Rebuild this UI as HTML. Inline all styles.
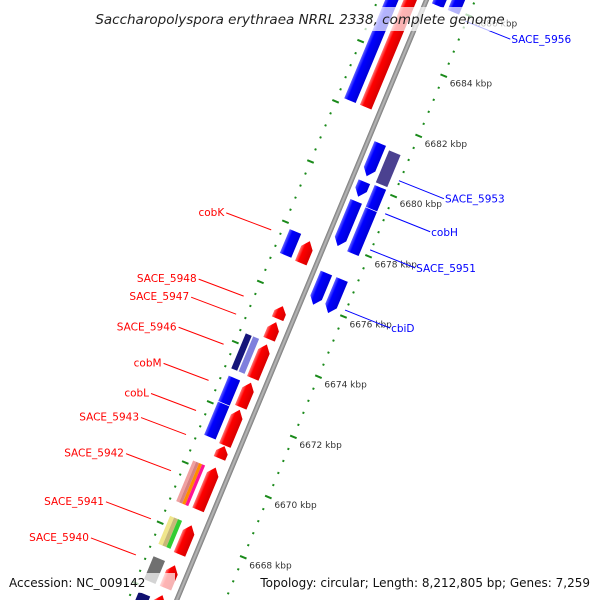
<!DOCTYPE html>
<html><head><meta charset="utf-8">
<style>
html,body{margin:0;padding:0;background:#fff;overflow:hidden;}
svg{display:block;font-family:"DejaVu Sans","Liberation Sans",sans-serif;}
</style></head>
<body>
<svg id="chart" width="600" height="600" viewBox="0 0 600 600" xmlns="http://www.w3.org/2000/svg" style="position:absolute;left:0;top:0">
<defs>
<linearGradient id="gBlue" x1="0" y1="0" x2="1" y2="0"><stop offset="0" stop-color="#6a6aff"/><stop offset="0.3" stop-color="#0000ff"/><stop offset="1" stop-color="#0000d8"/></linearGradient>
<linearGradient id="gRed" x1="0" y1="0" x2="1" y2="0"><stop offset="0" stop-color="#ff8080"/><stop offset="0.3" stop-color="#ff0000"/><stop offset="1" stop-color="#d80000"/></linearGradient>
<linearGradient id="gBack" x1="0" y1="0" x2="1" y2="0"><stop offset="0" stop-color="#777"/><stop offset="0.5" stop-color="#bbb"/><stop offset="1" stop-color="#777"/></linearGradient>
</defs>
<g id="frame" transform="translate(327,239) rotate(22.6)"></g>
<g id="over"></g>
</svg>
<script>
// ---- data ----
const tickKbp = [6668,6670,6672,6674,6676,6678,6680,6682,6684,6686];
const tickLabels = ["6668 kbp","6670 kbp","6672 kbp","6674 kbp","6676 kbp","6678 kbp","6680 kbp","6682 kbp","6684 kbp","6686 kbp"];
const geneTop    = [6687.9,6677.75,6675.59,6675.06,6674.32,6673.05,6672.15,6670.94,6670.23,6668.31,6666.98,6665.99, 6687.9,6677.85,6672.98,6672.12,6674.38,6674.38,6670.15,6668.31,6666.98,6665.8, 6687.3,6681.34,6680.07,6679.42,6677.04, 6687.3,6681.25,6680.1,6679.36,6677.04];
const geneBottom = [6682.18,6677.0,6675.15,6674.47,6673.17,6672.21,6670.94,6670.51,6668.80,6667.32,6666.20,6664.69, 6682.18,6677.04,6672.12,6671.0,6673.2,6673.2,6668.80,6667.38,6666.2,6664.5, 6685.9,6680.23,6679.55,6677.91,6675.96, 6685.9,6680.17,6679.36,6677.88,6675.9];
const geneSlot   = ["L1","L1","L1","L1","L1","L1","L1","L1","L1","L1","L1","L1", "L2","L2","L2","L2","L2a","L2b","L2","L2","L2","L2", "R1","R1","R1","R1","R1", "R2","R2","R2","R2","R2"];
const geneColor  = ["red","red","red","red","red","red","red","red","red","red","red","red", "blue","blue","blue","blue","#15157a","#7f7fdd","stripe1","stripe2","#707070","#101070", "blue","blue","blue","blue","blue", "blue","#4b4190","blue","blue","blue"];
const geneArrow  = [1,1,1,1,1,1,1,1,1,1,1,1, 0,0,0,0,0,0,0,0,0,0, 0,1,1,1,1, 0,0,0,0,1];
const stripe1 = ["#f0a0a0","#d88080","#ff8c00","#ff1493"];
const stripe2 = ["#f0e68c","#c8b878","#32cd32"];
const leftLabels = ["cobK","SACE_5948","SACE_5947","SACE_5946","cobM","cobL","SACE_5943","SACE_5942","SACE_5941","SACE_5940"];
const leftLabelKbp = [6677.6,6675.4,6674.8,6673.8,6672.6,6671.6,6670.8,6669.6,6668.0,6666.8];
const rightLabels = ["SACE_5956","SACE_5953","cobH","SACE_5951","cbiD"];
const rightLabelKbp = [6685.8,6680.5,6679.4,6678.2,6676.2];

// ---- geometry ----
const ANG = 22.6, PX = 32.6, K0 = 6678, C = Math.cos(ANG*Math.PI/180), S = Math.sin(ANG*Math.PI/180);
const yOf = k => (K0 - k) * PX;
const toImg = (x,y) => [327 + x*C - y*S, 239 + x*S + y*C];
const slots = {L1:[-21.5,-8.5], L2:[-38.5,-25.5], L2a:[-39,-32], L2b:[-31,-24], R1:[6,19], R2:[23,36]};
const NS = "http://www.w3.org/2000/svg";
const fr = document.getElementById('frame');
const ov = document.getElementById('over');
function mk(tag, attrs, parent){ const e=document.createElementNS(NS,tag); for(const k in attrs) e.setAttribute(k,attrs[k]); parent.appendChild(e); return e; }

const bb = mk('rect',{x:-2.5,y:-400,width:5,height:1000,fill:'url(#gBack)'},fr);



[-45,45].forEach((rx)=>{
  for(let k=6690;k>=6662;k-=0.4){
    const kk=Math.round(k*10)/10, y=yOf(kk);
    const major = Math.abs(kk/2 - Math.round(kk/2))<0.01;
    let m;
    if(major){ m=mk('rect',{x:rx-3.5,y:y-1,width:7,height:2,fill:'#1a8a1a'},fr); }
    else { m=mk('rect',{x:rx-1,y:y-1,width:2,height:2,fill:'#1a8a1a'},fr); }
    
    
  }
});

for(let i=0;i<geneTop.length;i++){
  const [x0,x1]=slots[geneSlot[i]], y0=yOf(geneTop[i]), y1=yOf(geneBottom[i]), xc=(x0+x1)/2;
  const col=geneColor[i];
  if(col==='stripe1'||col==='stripe2'){
    const arr = col==='stripe1'?stripe1:stripe2;
    const g=mk('g',{},fr);
    
    
    const w=(x1-x0)/arr.length;
    arr.forEach((c,j)=>{ mk('rect',{x:x0+j*w,y:y0,width:w,height:y1-y0,fill:c},g); });
    continue;
  }
  const fill = col==='red'?'url(#gRed)':col==='blue'?'url(#gBlue)':col;
  const h=Math.min(8,(y1-y0)*0.5);
  let pts;
  if(geneArrow[i] && col==='red') pts=[[xc,y0],[x1,y0+h],[x1,y1],[x0,y1],[x0,y0+h]];
  else if(geneArrow[i]) pts=[[x0,y0],[x1,y0],[x1,y1-h],[xc,y1],[x0,y1-h]];
  else pts=[[x0,y0],[x1,y0],[x1,y1],[x0,y1]];
  const p=mk('polygon',{points:pts.map(q=>q.join(',')).join(' '),fill:fill,stroke:'#fff','stroke-width':0.6},fr);
  
  
}

tickKbp.forEach((k,i)=>{
  const [X,Y]=toImg(45,yOf(k));
  const t=mk('text',{x:X+6,y:Y+11,'font-size':9,fill:'#333'},ov);
  t.textContent=tickLabels[i];
  
  
});

leftLabels.forEach((s,i)=>{
  const [X,Y]=toImg(-55,yOf(leftLabelKbp[i]));
  const l=mk('line',{x1:X,y1:Y,x2:X-45,y2:Y-17,stroke:'#ff0000','stroke-width':1},ov);
  
  
  const t=mk('text',{x:X-47,y:Y-14,'font-size':10.5,fill:'#ff0000','text-anchor':'end'},ov);
  t.textContent=s;
  
  
});
rightLabels.forEach((s,i)=>{
  const [X,Y]=toImg(44,yOf(rightLabelKbp[i]));
  const l=mk('line',{x1:X,y1:Y,x2:X+45,y2:Y+18,stroke:'#0000ff','stroke-width':1},ov);
  
  
  const t=mk('text',{x:X+46,y:Y+22,'font-size':10.5,fill:'#0000ff'},ov);
  t.textContent=s;
  
  
});
</script>
<svg style="position:absolute;left:0;top:0" width="600" height="600">
<rect x="93" y="7" width="414" height="24" fill="#fff" fill-opacity="0.7"/>
<text x="300" y="24" text-anchor="middle" font-family="DejaVu Sans, Liberation Sans, sans-serif" font-style="italic" font-size="13.5" fill="#222">Saccharopolyspora erythraea NRRL 2338, complete genome</text>
<rect x="5" y="573" width="170" height="20" fill="#fff" fill-opacity="0.7"/>
<rect x="257" y="573" width="338" height="20" fill="#fff" fill-opacity="0.7"/>
<text x="9" y="587" font-family="DejaVu Sans, Liberation Sans, sans-serif" font-size="12" fill="#111">Accession: NC_009142</text>
<text x="590" y="587" text-anchor="end" font-family="DejaVu Sans, Liberation Sans, sans-serif" font-size="12" fill="#111">Topology: circular; Length: 8,212,805 bp; Genes: 7,259</text>
</svg>
</body></html>
